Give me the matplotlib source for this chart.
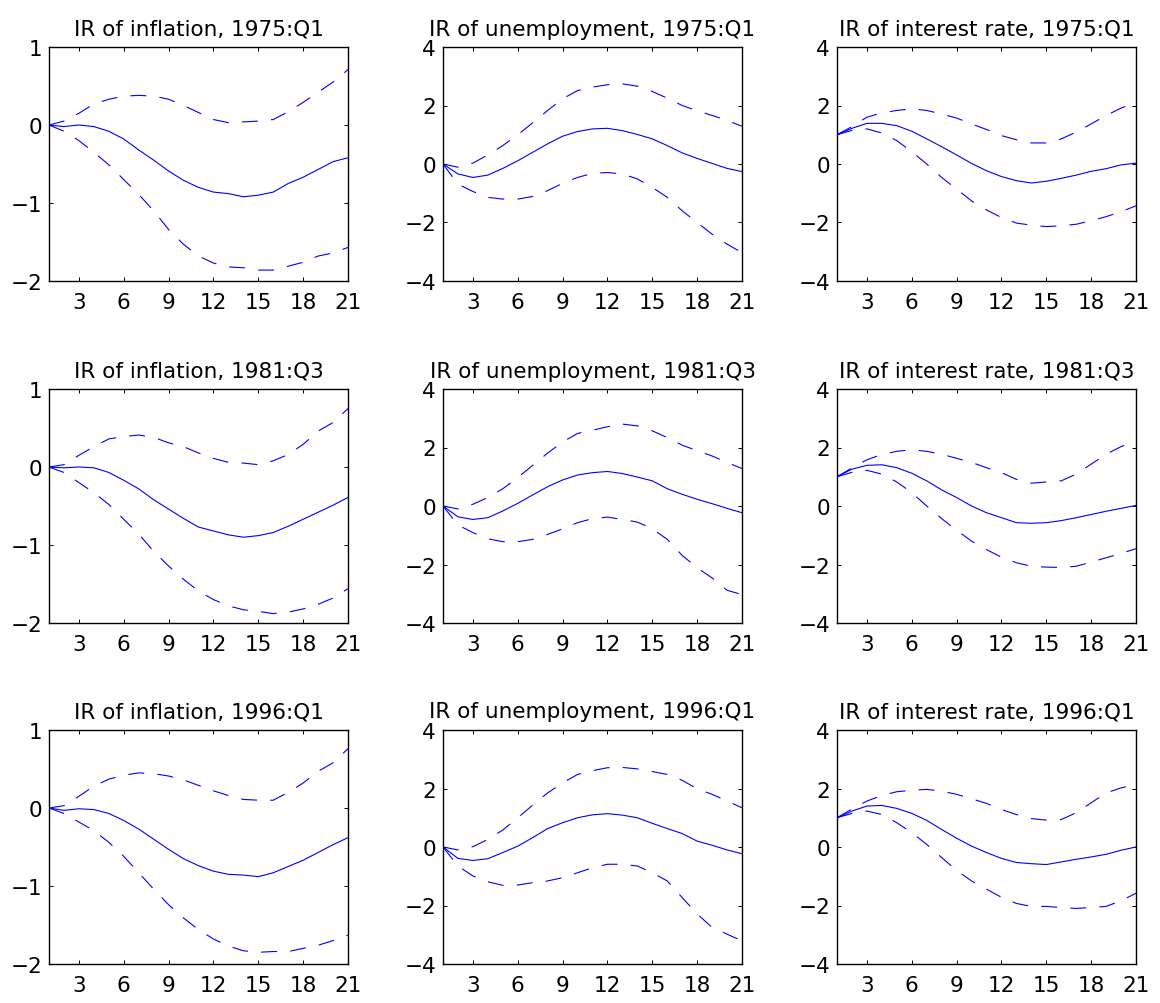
import matplotlib
matplotlib.use("Agg")
import matplotlib.pyplot as plt
import numpy as np

plt.rcParams['font.family'] = ['DejaVu Sans']
plt.rcParams['lines.scale_dashes'] = False

horizon = np.arange(1, 22)
xticks = [3, 6, 9, 12, 15, 18, 21]
dates = ["1975:Q1", "1981:Q3", "1996:Q1"]
variables = ["inflation", "unemployment", "interest rate"]

# inflation responses: median, lower and upper bands
infl_75 = [0, -0.02, 0, -0.02, -0.08, -0.18, -0.32, -0.45, -0.59, -0.71, -0.80,
           -0.86, -0.88, -0.92, -0.90, -0.86, -0.75, -0.67, -0.57, -0.47, -0.42]
infl_75_lo = [0, -0.08, -0.20, -0.35, -0.51, -0.70, -0.89, -1.10, -1.34, -1.53, -1.68,
              -1.77, -1.82, -1.83, -1.86, -1.86, -1.81, -1.76, -1.68, -1.64, -1.57]
infl_75_hi = [0, 0.05, 0.15, 0.27, 0.33, 0.37, 0.38, 0.37, 0.33, 0.25, 0.16,
              0.07, 0.03, 0.04, 0.05, 0.07, 0.17, 0.29, 0.42, 0.55, 0.71]

infl_81 = [0, -0.01, 0, -0.01, -0.07, -0.17, -0.28, -0.42, -0.54, -0.66, -0.77,
           -0.82, -0.87, -0.90, -0.88, -0.84, -0.76, -0.67, -0.58, -0.49, -0.39]
infl_81_lo = [0, -0.07, -0.20, -0.33, -0.48, -0.67, -0.86, -1.08, -1.27, -1.44, -1.59,
              -1.70, -1.78, -1.83, -1.85, -1.88, -1.86, -1.82, -1.76, -1.68, -1.56]
infl_81_hi = [0, 0.03, 0.15, 0.26, 0.36, 0.39, 0.41, 0.38, 0.31, 0.26, 0.18,
              0.11, 0.06, 0.05, 0.03, 0.08, 0.16, 0.29, 0.46, 0.57, 0.75]

infl_96 = [0, -0.03, -0.01, -0.02, -0.07, -0.16, -0.27, -0.40, -0.53, -0.65, -0.74,
           -0.81, -0.85, -0.86, -0.88, -0.83, -0.75, -0.67, -0.57, -0.47, -0.38]
infl_96_lo = [0, -0.07, -0.18, -0.29, -0.44, -0.62, -0.83, -1.04, -1.24, -1.41, -1.56,
              -1.68, -1.77, -1.83, -1.85, -1.84, -1.84, -1.80, -1.76, -1.70, -1.63]
infl_96_hi = [0, 0.03, 0.15, 0.28, 0.37, 0.42, 0.45, 0.44, 0.41, 0.36, 0.29,
              0.22, 0.16, 0.11, 0.10, 0.10, 0.20, 0.32, 0.47, 0.58, 0.76]

# unemployment responses
unemp_75 = [0, -0.34, -0.46, -0.38, -0.15, 0.11, 0.40, 0.69, 0.95, 1.11, 1.20,
            1.22, 1.14, 1.01, 0.86, 0.63, 0.38, 0.19, 0.02, -0.15, -0.26]
unemp_75_lo = [0, -0.69, -0.94, -1.14, -1.20, -1.20, -1.11, -0.91, -0.66, -0.46, -0.32,
               -0.29, -0.34, -0.51, -0.80, -1.14, -1.60, -2.00, -2.40, -2.74, -3.03]
unemp_75_hi = [0, -0.11, 0.03, 0.31, 0.63, 1.00, 1.41, 1.83, 2.23, 2.51, 2.63,
               2.71, 2.74, 2.66, 2.48, 2.25, 2.00, 1.82, 1.66, 1.49, 1.29]

unemp_81 = [0, -0.37, -0.46, -0.40, -0.17, 0.09, 0.38, 0.66, 0.89, 1.06, 1.14,
            1.18, 1.11, 0.99, 0.86, 0.59, 0.40, 0.23, 0.08, -0.08, -0.23]
unemp_81_lo = [0, -0.65, -0.91, -1.12, -1.22, -1.22, -1.14, -0.97, -0.78, -0.57, -0.43,
               -0.38, -0.46, -0.55, -0.78, -1.14, -1.69, -2.11, -2.46, -2.88, -3.03]
unemp_81_hi = [0, -0.10, 0.06, 0.29, 0.59, 0.97, 1.39, 1.81, 2.19, 2.48, 2.59,
               2.71, 2.80, 2.74, 2.57, 2.34, 2.08, 1.89, 1.71, 1.49, 1.28]

unemp_96 = [0, -0.39, -0.46, -0.40, -0.19, 0.03, 0.32, 0.63, 0.83, 1.00, 1.10,
            1.14, 1.09, 1.00, 0.81, 0.63, 0.46, 0.20, 0.06, -0.10, -0.23]
unemp_96_lo = [0, -0.65, -0.99, -1.19, -1.31, -1.30, -1.22, -1.16, -1.05, -0.88, -0.71,
               -0.59, -0.59, -0.65, -0.88, -1.16, -1.73, -2.29, -2.75, -2.98, -3.21]
unemp_96_hi = [0, -0.10, 0.01, 0.26, 0.58, 1.00, 1.43, 1.85, 2.19, 2.48, 2.61,
               2.71, 2.72, 2.67, 2.58, 2.48, 2.28, 1.99, 1.80, 1.57, 1.34]

# interest rate responses
rate_75 = [1.00, 1.22, 1.39, 1.39, 1.31, 1.12, 0.86, 0.59, 0.31, 0.02, -0.23,
           -0.43, -0.57, -0.65, -0.59, -0.49, -0.38, -0.25, -0.16, -0.03, 0.03]
rate_75_lo = [1.00, 1.15, 1.20, 1.06, 0.80, 0.42, 0.00, -0.46, -0.86, -1.26, -1.57,
              -1.83, -2.02, -2.09, -2.14, -2.11, -2.06, -1.94, -1.80, -1.63, -1.43]
rate_75_hi = [1.00, 1.28, 1.60, 1.75, 1.83, 1.89, 1.83, 1.71, 1.57, 1.37, 1.18,
              0.97, 0.83, 0.72, 0.72, 0.86, 1.09, 1.37, 1.66, 1.91, 2.11]

rate_81 = [1.00, 1.26, 1.39, 1.41, 1.31, 1.12, 0.86, 0.55, 0.29, 0.00, -0.23,
           -0.40, -0.57, -0.59, -0.57, -0.50, -0.40, -0.29, -0.18, -0.08, 0.02]
rate_81_lo = [1.00, 1.15, 1.22, 1.09, 0.82, 0.46, 0.00, -0.43, -0.83, -1.20, -1.49,
              -1.75, -1.94, -2.06, -2.09, -2.10, -2.06, -1.92, -1.77, -1.62, -1.46]
rate_81_hi = [1.00, 1.30, 1.58, 1.76, 1.87, 1.92, 1.87, 1.77, 1.63, 1.49, 1.31,
              1.14, 0.91, 0.78, 0.82, 0.86, 1.09, 1.43, 1.77, 2.03, 2.23]

rate_96 = [0.99, 1.23, 1.40, 1.42, 1.32, 1.15, 0.91, 0.60, 0.30, 0.03, -0.19,
           -0.39, -0.53, -0.57, -0.60, -0.51, -0.42, -0.34, -0.25, -0.11, 0.00]
rate_96_lo = [1.00, 1.15, 1.23, 1.11, 0.83, 0.49, 0.09, -0.36, -0.80, -1.16, -1.44,
              -1.72, -1.93, -2.03, -2.03, -2.07, -2.10, -2.07, -2.03, -1.84, -1.58]
rate_96_hi = [1.00, 1.30, 1.57, 1.76, 1.89, 1.94, 1.97, 1.91, 1.80, 1.65, 1.49,
              1.28, 1.11, 0.97, 0.92, 0.94, 1.17, 1.51, 1.85, 2.02, 2.14]

responses = [
    [(infl_75, infl_75_lo, infl_75_hi), (unemp_75, unemp_75_lo, unemp_75_hi), (rate_75, rate_75_lo, rate_75_hi)],
    [(infl_81, infl_81_lo, infl_81_hi), (unemp_81, unemp_81_lo, unemp_81_hi), (rate_81, rate_81_lo, rate_81_hi)],
    [(infl_96, infl_96_lo, infl_96_hi), (unemp_96, unemp_96_lo, unemp_96_hi), (rate_96, rate_96_lo, rate_96_hi)],
]
ylims = [(-2, 1), (-4, 4), (-4, 4)]
yticks = [[-2, -1, 0, 1], [-4, -2, 0, 2, 4], [-4, -2, 0, 2, 4]]

W, H = 1160, 1004
lefts = [49, 443, 837]
tops = [48, 390, 731]
aw, ah = 299, 234

fig = plt.figure(figsize=(W / 100, H / 100), dpi=100)
blue = (0, 0, 1)
dash = (11.5, 9.5)

for r in range(3):
    for c in range(3):
        ax = fig.add_axes([lefts[c] / W, 1 - (tops[r] + ah) / H, aw / W, ah / H])
        mid, lo, hi = responses[r][c]
        ax.plot(horizon, mid, color=blue, lw=0.8)
        ax.plot(horizon, lo, color=blue, lw=0.8, dashes=dash)
        ax.plot(horizon, hi, color=blue, lw=0.8, dashes=dash)
        ax.set_xlim(1, 21)
        ax.set_ylim(*ylims[c])
        ax.set_xticks(xticks)
        ax.set_yticks(yticks[c])
        ax.set_yticklabels([str(v).replace('-', '\u2212') for v in yticks[c]])
        ax.tick_params(direction='in', top=True, right=True, length=3, width=0.7,
                       labelsize=15.5)
        ax.tick_params(axis='x', pad=8)
        ax.tick_params(axis='y', pad=5)
        for s in ax.spines.values():
            s.set_linewidth(1.0)
        ax.set_title(f"IR of {variables[c]}, {dates[r]}", fontsize=15.5, pad=9)

fig.savefig("out.png", dpi=100)
